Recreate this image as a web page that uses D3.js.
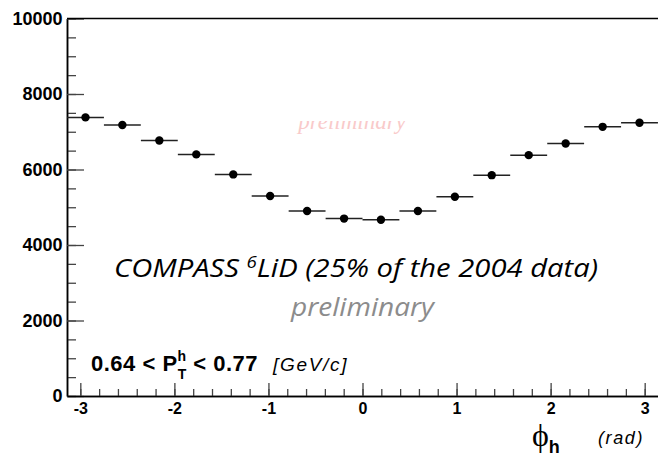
<!DOCTYPE html>
<html>
<head>
<meta charset="utf-8">
<script src="https://cdn.jsdelivr.net/npm/d3@7"></script>
<style>
  body { margin: 0; background: #fff; }
  svg { display: block; }
</style>
</head>
<body>
<div id="chart"></div>
<script>
// phi_h bins (rad) and counts
const phiBinCenters = [-2.945, -2.553, -2.160, -1.767, -1.374, -0.982, -0.589, -0.196,
                        0.196,  0.589,  0.982,  1.374,  1.767,  2.160,  2.553,  2.945];
const binHalfWidth = 0.196;
const counts = [7380, 7180, 6770, 6400, 5870, 5300, 4900, 4700,
                4670, 4900, 5280, 5850, 6380, 6690, 7130, 7240];

const yMajorTicks = [0, 2000, 4000, 6000, 8000, 10000];
const xMajorTicks = [-3, -2, -1, 0, 1, 2, 3];

const W = 658, H = 456;
const margin = {top: 18.5, right: 0, bottom: 60, left: 67};
const width = W - margin.left - margin.right;
const height = H - margin.top - margin.bottom;

const svg = d3.select("#chart").append("svg")
    .attr("width", W)
    .attr("height", H);

const g = svg.append("g")
    .attr("transform", "translate(" + margin.left + "," + margin.top + ")");

// scales
const x = d3.scaleLinear().domain([-Math.PI, Math.PI]).range([0, width]);
const y = d3.scaleLinear().domain([0, 10000]).range([height, 0]);

// minor ticks first (no labels)
const yMinor = d3.axisLeft(y).tickValues(d3.range(0, 10001, 500))
    .tickSizeInner(-9).tickSizeOuter(0).tickFormat("");
const xMinor = d3.axisBottom(x).tickValues(d3.range(-15, 16).map(i => i / 5))
    .tickSizeInner(-7).tickSizeOuter(0).tickFormat("");

g.append("g").attr("class", "y-minor").call(yMinor);
g.append("g").attr("class", "x-minor")
    .attr("transform", "translate(0," + height + ")")
    .call(xMinor);

// major ticks (plain hyphen for negatives, like ROOT)
const yAxis = d3.axisLeft(y).tickValues(yMajorTicks)
    .tickSizeInner(-17).tickSizeOuter(0).tickPadding(4.5)
    .tickFormat(d => String(d));
const xAxis = d3.axisBottom(x).tickValues(xMajorTicks)
    .tickSizeInner(-13).tickSizeOuter(0).tickPadding(7)
    .tickFormat(d => String(d));

g.append("g").attr("class", "y-axis").call(yAxis);
g.append("g").attr("class", "x-axis")
    .attr("transform", "translate(0," + height + ")")
    .call(xAxis);

// styling like ROOT
g.selectAll(".tick line").attr("stroke", "#444").attr("stroke-width", 1.3);
g.selectAll(".domain").attr("stroke", "#000").attr("stroke-width", 1.5);
g.selectAll(".y-axis text, .x-axis text")
    .attr("fill", "#000")
    .style("font-family", "'Liberation Sans', Arial, sans-serif")
    .style("font-weight", "bold");
g.selectAll(".y-axis text").style("font-size", "18px");
g.selectAll(".x-axis text").style("font-size", "16px");

// top frame line
g.append("line")
    .attr("x1", 0).attr("x2", width)
    .attr("y1", 0).attr("y2", 0)
    .attr("stroke", "#000").attr("stroke-width", 1.5);

// faint watermark, partly hidden
svg.append("clipPath").attr("id", "wm-clip")
    .append("rect").attr("x", 0).attr("y", 121).attr("width", W).attr("height", 40);
svg.append("text")
    .attr("clip-path", "url(#wm-clip)")
    .attr("x", 352).attr("y", 129)
    .attr("text-anchor", "middle")
    .style("font-family", "'Liberation Serif', 'Times New Roman', serif")
    .style("font-style", "italic")
    .style("font-size", "23px")
    .attr("fill", "#f9caca")
    .text("preliminary");

// data: horizontal bin bars + markers
const pts = phiBinCenters.map((c, i) => ({c: c, v: counts[i]}));

g.selectAll(".xerr")
    .data(pts)
    .enter().append("line")
    .attr("class", "xerr")
    .attr("x1", d => x(d.c - binHalfWidth))
    .attr("x2", d => x(d.c + binHalfWidth))
    .attr("y1", d => y(d.v))
    .attr("y2", d => y(d.v))
    .attr("stroke", "#222")
    .attr("stroke-width", 1.5);

g.selectAll(".dot")
    .data(pts)
    .enter().append("circle")
    .attr("class", "dot")
    .attr("cx", d => x(d.c))
    .attr("cy", d => y(d.v))
    .attr("r", 4.2)
    .attr("fill", "#000");

// annotation texts
const title = svg.append("text")
    .attr("x", 114).attr("y", 277)
    .attr("textLength", 484)
    .attr("lengthAdjust", "spacingAndGlyphs")
    .style("font-family", "'Open Sans', 'Noto Sans', sans-serif")
    .style("font-style", "italic")
    .style("font-size", "25px")
    .attr("fill", "#000");
title.append("tspan").text("COMPASS ");
title.append("tspan").attr("dy", -9).style("font-size", "16px").text("6");
title.append("tspan").attr("dy", 9).text("LiD (25% of the 2004 data)");

svg.append("text")
    .attr("x", 291).attr("y", 316)
    .attr("textLength", 143)
    .attr("lengthAdjust", "spacingAndGlyphs")
    .style("font-family", "'Open Sans', 'Noto Sans', sans-serif")
    .style("font-style", "italic")
    .style("font-size", "25px")
    .attr("fill", "#8c8c8c")
    .text("preliminary");

// pT range label
const pt = svg.append("text")
    .attr("x", 91).attr("y", 371)
    .style("font-family", "'Liberation Sans', Arial, sans-serif")
    .style("font-weight", "bold")
    .style("font-size", "22px")
    .style("letter-spacing", "0.5px")
    .attr("fill", "#000");
pt.append("tspan").text("0.64 < P");
pt.append("tspan").attr("dy", -10).style("font-size", "14px").text("h");
pt.append("tspan").attr("dx", -9).attr("dy", 18).style("font-size", "14px").text("T");
pt.append("tspan").attr("dy", -8).text(" < 0.77");

svg.append("text")
    .attr("x", 273).attr("y", 371)
    .style("font-family", "'Liberation Sans', Arial, sans-serif")
    .style("font-style", "italic")
    .style("font-size", "19px")
    .style("letter-spacing", "1.7px")
    .attr("fill", "#000")
    .text("[GeV/c]");

// x axis title
const xt = svg.append("text")
    .attr("x", 532).attr("y", 446)
    .attr("fill", "#000");
xt.append("tspan")
    .style("font-family", "'Liberation Serif', 'Times New Roman', serif")
    .style("font-size", "32px")
    .text("\u03D5");
xt.append("tspan")
    .attr("dy", 7)
    .style("font-family", "'Liberation Sans', Arial, sans-serif")
    .style("font-weight", "bold")
    .style("font-size", "18px")
    .text("h");

svg.append("text")
    .attr("x", 598).attr("y", 444)
    .style("font-family", "'Liberation Sans', Arial, sans-serif")
    .style("font-style", "italic")
    .style("font-size", "18px")
    .style("letter-spacing", "1.6px")
    .attr("fill", "#000")
    .text("(rad)");
</script>
</body>
</html>
